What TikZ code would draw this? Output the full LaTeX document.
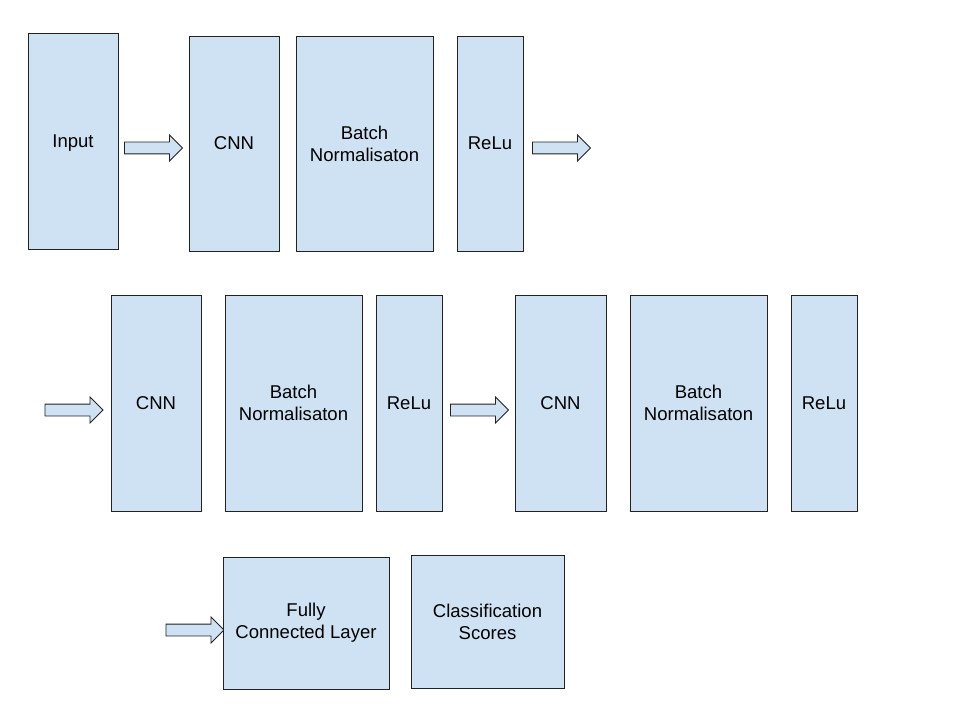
\documentclass[tikz,border=0pt]{standalone}
\usepackage{fontspec}
\setmainfont{Liberation Sans}
\usetikzlibrary{shapes.arrows}
\definecolor{boxblue}{HTML}{CFE2F3}
\definecolor{boxline}{HTML}{222222}
\tikzset{
	layer/.style 2 args={draw=boxline, fill=boxblue, line width=0.7pt, align=center, inner sep=0pt,
		minimum width=#1*0.75pt, minimum height=#2*0.75pt, font=\fontsize{13.9}{16.5}\selectfont},
	flow/.style={single arrow, draw=boxline, fill=boxblue, line width=0.7pt, inner xsep=0pt,
		inner ysep=11*0.375pt, minimum height=58*0.75pt, single arrow head extend=7*0.75pt,
		single arrow head indent=0pt, anchor=tail}
}
\begin{document}
\begin{tikzpicture}[x=0.75pt,y=-0.75pt]
			\useasboundingbox[fill=white] (0,0) rectangle (960,720);
			\node[layer={90}{216}, text depth=0pt] (In) at (73,141) {Input};
			\node[flow] (Fa) at (124,148) {};
			\node[layer={90}{215}] (Ca) at (234,143.5) {CNN};
			\node[layer={137}{215}] (Ba) at (364.5,143.5) {Batch\\Normalisaton};
			\node[layer={66}{215}] (Ra) at (490,143.5) {ReLu};
			\node[flow] (Fb) at (532,148) {};
			\node[flow] (Fc) at (44.5,410) {};
			\node[layer={90}{216}] (Cb) at (156,403) {CNN};
			\node[layer={137}{216}] (Bb) at (293.5,403) {Batch\\Normalisaton};
			\node[layer={66}{216}] (Rb) at (409,403) {ReLu};
			\node[flow] (Fd) at (450,410) {};
			\node[layer={91}{216}] (Cc) at (560.5,403) {CNN};
			\node[layer={137}{216}] (Bc) at (698.5,403) {Batch\\Normalisaton};
			\node[layer={66}{216}] (Rc) at (824,403) {ReLu};
			\node[flow] (Fe) at (165.5,630) {};
			\node[layer={166}{132}] (Fl) at (306,623) {Fully\\Connected Layer};
			\node[layer={153}{133}] (Sc) at (487.5,621.5) {Classification\\Scores};
		\end{tikzpicture}
\end{document}
